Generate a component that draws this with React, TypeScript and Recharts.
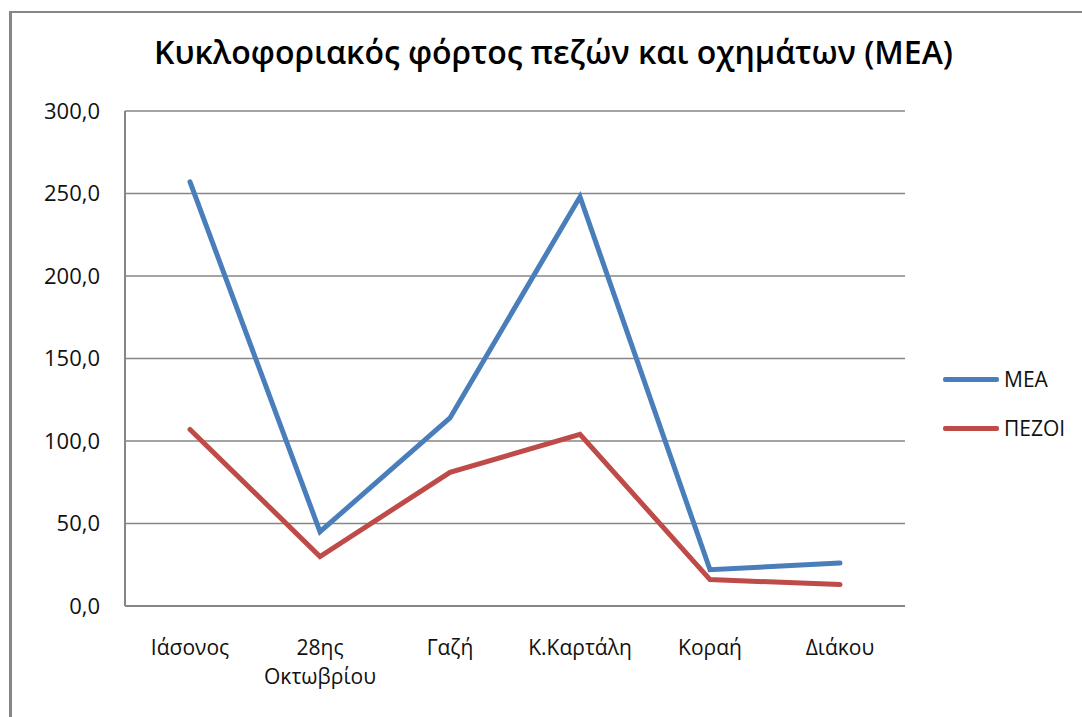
import { LineChart, Line, XAxis, YAxis, CartesianGrid } from "recharts";

const categories = ["Ιάσονος", "28ης Οκτωβρίου", "Γαζή", "Κ.Καρτάλη", "Κοραή", "Διάκου"];
const meaValues = [257, 45, 114, 248, 22, 26];
const pezoiValues = [107, 30, 81, 104, 16, 13];
const yTicks = [0, 50, 100, 150, 200, 250, 300];

const seriesInfo = [
  { key: "mea", name: "ΜΕΑ", color: "#4A7EBB" },
  { key: "pezoi", name: "ΠΕΖΟΙ", color: "#BE4B48" },
];

const data = categories.map((name, i) => ({
  name,
  mea: meaValues[i],
  pezoi: pezoiValues[i],
}));

const FONT = "'Open Sans', 'Noto Sans', sans-serif";

const fmt = (v: number) => v.toFixed(1).replace(".", ",");

const CategoryTick = (props: any) => {
  const { x, y, payload } = props;
  const lines = String(payload.value).split(" ");
  return (
    <text x={x} y={y} textAnchor="middle" fill="#111" fontSize={21} fontFamily={FONT}>
      {lines.map((l, i) => (
        <tspan key={i} x={x} y={y + 43 + i * 29}>
          {l}
        </tspan>
      ))}
    </text>
  );
};

export default function App() {
  return (
    <div
      style={{
        position: "absolute",
        left: 0,
        top: 0,
        width: 1082,
        height: 717,
        overflow: "hidden",
        background: "#fff",
      }}
    >
      <div
        style={{
          position: "absolute",
          left: 9,
          top: 11,
          width: 1100,
          height: 740,
          borderTop: "2px solid #868686",
          borderLeft: "3px solid #868686",
        }}
      />
      <div
        style={{
          position: "absolute",
          left: 0,
          width: 1107,
          top: 30,
          textAlign: "center",
          fontFamily: FONT,
          fontWeight: 600,
          fontSize: 32,
          color: "#000",
          whiteSpace: "nowrap",
        }}
      >
        Κυκλοφοριακός φόρτος πεζών και οχημάτων (ΜΕΑ)
      </div>
      <div style={{ position: "absolute", left: 0, top: 0 }}>
        <LineChart
          width={1082}
          height={717}
          data={data}
          margin={{ top: 111, right: 177, bottom: 61, left: 0 }}
        >
          <CartesianGrid vertical={false} stroke="#868686" strokeWidth={1.5} />
          <XAxis
            dataKey="name"
            height={50}
            padding={{ left: 65, right: 65 }}
            axisLine={{ stroke: "#868686", strokeWidth: 2 }}
            tickLine={false}
            tickMargin={0}
            interval={0}
            tick={<CategoryTick />}
          />
          <YAxis
            width={125}
            domain={[0, 300]}
            ticks={yTicks}
            tickFormatter={fmt}
            axisLine={{ stroke: "#868686", strokeWidth: 2 }}
            tickLine={false}
            tickMargin={19}
            tick={{ fill: "#111", fontSize: 22, fontFamily: FONT }}
          />
          {seriesInfo.map((s) => (
            <Line
              key={s.key}
              dataKey={s.key}
              name={s.name}
              stroke={s.color}
              strokeWidth={5}
              strokeLinecap="round"
              strokeLinejoin="miter"
              dot={false}
              activeDot={false}
              isAnimationActive={false}
            />
          ))}
        </LineChart>
      </div>
      {seriesInfo.map((s, i) => (
        <div
          key={s.key}
          style={{
            position: "absolute",
            left: 943,
            top: 379 - 16 + i * 49,
            height: 32,
            display: "flex",
            alignItems: "center",
            fontFamily: FONT,
            fontSize: 21,
            color: "#111",
          }}
        >
          <span
            style={{
              display: "inline-block",
              width: 56,
              height: 5,
              background: s.color,
              borderRadius: 2,
              marginRight: 5,
            }}
          />
          {s.name}
        </div>
      ))}
    </div>
  );
}
